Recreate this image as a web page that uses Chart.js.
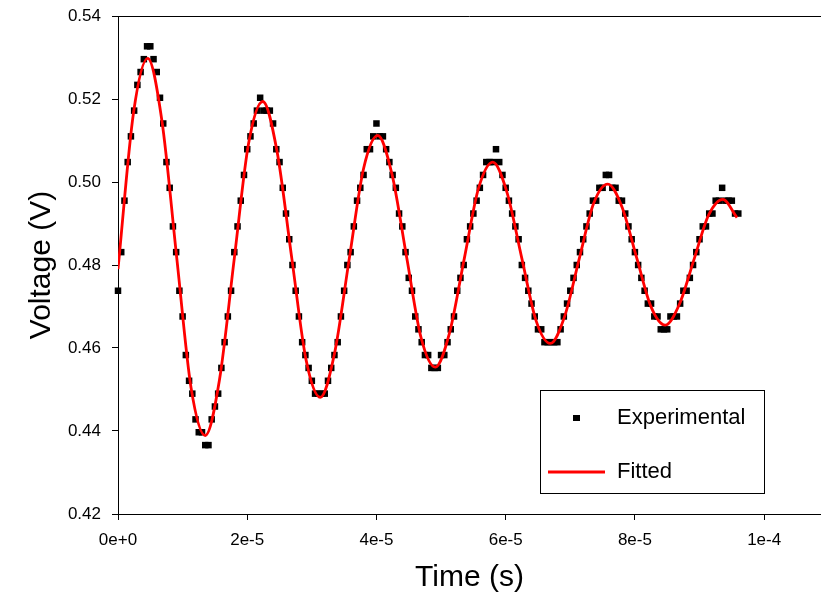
<!DOCTYPE html>
<html>
<head>
<meta charset="utf-8">
<script src="https://cdn.jsdelivr.net/npm/chart.js@4.4.0/dist/chart.umd.min.js"></script>
<style>
  body { margin: 0; background: #fff; }
  #wrap { width: 821px; height: 599px; }
</style>
</head>
<body>
<div id="wrap"><canvas id="mycanvas" width="821" height="599"></canvas></div>
<script>
// scope samples, one every 0.5 us starting at t = 0
var sampleStepUs = 0.5;
var expVoltage = [
  0.4738, 0.4831, 0.4955, 0.5048, 0.5110, 0.5172, 0.5234, 0.5265, 0.5296, 0.5327,
  0.5327, 0.5296, 0.5265, 0.5203, 0.5141, 0.5048, 0.4986, 0.4893, 0.4831, 0.4738,
  0.4676, 0.4583, 0.4521, 0.4490, 0.4428, 0.4397, 0.4397, 0.4366, 0.4366, 0.4428,
  0.4459, 0.4490, 0.4552, 0.4614, 0.4676, 0.4738, 0.4831, 0.4893, 0.4955, 0.5017,
  0.5079, 0.5110, 0.5141, 0.5172, 0.5203, 0.5172, 0.5172, 0.5172, 0.5141, 0.5079,
  0.5048, 0.4986, 0.4924, 0.4862, 0.4800, 0.4738, 0.4676, 0.4614, 0.4583, 0.4552,
  0.4521, 0.4490, 0.4490, 0.4490, 0.4490, 0.4521, 0.4552, 0.4583, 0.4614, 0.4676,
  0.4738, 0.4800, 0.4831, 0.4893, 0.4955, 0.4986, 0.5017, 0.5079, 0.5079, 0.5110,
  0.5141, 0.5110, 0.5110, 0.5079, 0.5048, 0.5017, 0.4986, 0.4924, 0.4893, 0.4831,
  0.4769, 0.4738, 0.4676, 0.4645, 0.4614, 0.4583, 0.4583, 0.4552, 0.4552, 0.4552,
  0.4583, 0.4583, 0.4614, 0.4645, 0.4676, 0.4738, 0.4769, 0.4800, 0.4862, 0.4893,
  0.4924, 0.4955, 0.4986, 0.5017, 0.5048, 0.5048, 0.5048, 0.5079, 0.5048, 0.5017,
  0.4986, 0.4955, 0.4924, 0.4893, 0.4862, 0.4800, 0.4769, 0.4738, 0.4707, 0.4676,
  0.4645, 0.4645, 0.4614, 0.4614, 0.4614, 0.4614, 0.4614, 0.4645, 0.4676, 0.4707,
  0.4738, 0.4769, 0.4800, 0.4831, 0.4862, 0.4893, 0.4924, 0.4955, 0.4955, 0.4986,
  0.4986, 0.5017, 0.5017, 0.4986, 0.4986, 0.4955, 0.4955, 0.4924, 0.4893, 0.4862,
  0.4831, 0.4800, 0.4769, 0.4738, 0.4707, 0.4707, 0.4676, 0.4676, 0.4645, 0.4645,
  0.4645, 0.4676, 0.4676, 0.4676, 0.4707, 0.4738, 0.4738, 0.4769, 0.4800, 0.4831,
  0.4862, 0.4893, 0.4893, 0.4924, 0.4924, 0.4955, 0.4955, 0.4986, 0.4955, 0.4955,
  0.4955, 0.4924, 0.4924
];

// fitted curve (time in us)
var fitTimeUs = [
  0, 2.4, 4.6, 6.8, 9.1, 11.3, 13.5, 15.7, 18.0, 20.2, 22.4, 24.6, 26.9, 29.1, 31.3,
  33.5, 35.8, 38.0, 40.2, 42.4, 44.7, 46.9, 49.1, 51.3, 53.6, 55.8, 58.0, 60.2, 62.5,
  64.7, 66.9, 69.1, 71.4, 73.6, 75.8, 78.0, 80.3, 82.5, 84.7, 86.9, 89.2, 91.4, 93.6, 95.8
];
var fitVoltage = [
  0.4790, 0.5167, 0.5298, 0.5147, 0.4816, 0.4505, 0.4389, 0.4523, 0.4816, 0.5092,
  0.5194, 0.5075, 0.4816, 0.4572, 0.4481, 0.4586, 0.4816, 0.5032, 0.5112, 0.5019,
  0.4816, 0.4625, 0.4554, 0.4636, 0.4816, 0.4985, 0.5048, 0.4975, 0.4816, 0.4666,
  0.4611, 0.4675, 0.4816, 0.4948, 0.4995, 0.4940, 0.4816, 0.4699, 0.4655, 0.4706,
  0.4816, 0.4920, 0.4958, 0.4914
];

var xTicks = [0, 2e-5, 4e-5, 6e-5, 8e-5, 1e-4];
var yTicks = [0.42, 0.44, 0.46, 0.48, 0.50, 0.52, 0.54];
var seriesLabels = ['Experimental', 'Fitted'];
var xTitle = 'Time (s)';
var yTitle = 'Voltage (V)';

var tickFont = { family: "'Liberation Sans', Arial, sans-serif", size: 17 };
var titleFont = { family: "'Liberation Sans', Arial, sans-serif", size: 30 };

var expPoints = [];
for (var i = 0; i < expVoltage.length; i++) {
  expPoints.push({ x: i * sampleStepUs * 1e-6, y: expVoltage[i] });
}
var fitPoints = [];
for (var j = 0; j < fitTimeUs.length; j++) {
  fitPoints.push({ x: fitTimeUs[j] * 1e-6, y: fitVoltage[j] });
}

// top frame line + boxed legend inside the plot
var framePlugin = {
  id: 'frame',
  afterDraw: function(chart) {
    var ctx = chart.ctx;
    var a = chart.chartArea;
    ctx.save();
    ctx.strokeStyle = '#000';
    ctx.lineWidth = 1;
    ctx.beginPath();
    ctx.moveTo(a.left, a.top + 0.5);
    ctx.lineTo(a.right, a.top + 0.5);
    ctx.stroke();

    // legend
    ctx.fillStyle = '#fff';
    ctx.fillRect(541, 391, 224, 103);
    ctx.strokeRect(540.5, 390.5, 224, 103);
    ctx.fillStyle = '#000';
    ctx.fillRect(573, 415, 7, 6);
    ctx.strokeStyle = '#ff0000';
    ctx.lineWidth = 2.8;
    ctx.beginPath();
    ctx.moveTo(548, 472);
    ctx.lineTo(605, 472);
    ctx.stroke();
    ctx.fillStyle = '#000';
    ctx.font = "22px 'Liberation Sans', Arial, sans-serif";
    ctx.textBaseline = 'middle';
    ctx.fillText(chart.data.datasets[1].label, 617, 418);
    ctx.fillText(chart.data.datasets[0].label, 617, 472);
    ctx.restore();
  }
};

var ctx = document.getElementById('mycanvas');

var chart = new Chart(ctx, {
  type: 'scatter',
  data: {
    datasets: [
      {
        label: seriesLabels[1],
        data: fitPoints,
        showLine: true,
        borderColor: '#ff0000',
        borderWidth: 2.8,
        pointRadius: 0,
        fill: false,
        cubicInterpolationMode: 'monotone',
        order: 1
      },
      {
        label: seriesLabels[0],
        data: expPoints,
        showLine: false,
        clip: false,
        pointStyle: 'rect',
        pointRadius: 4.6,
        pointBorderWidth: 0,
        backgroundColor: '#000',
        borderColor: '#000',
        order: 2
      }
    ]
  },
  options: {
    responsive: false,
    animation: false,
    layout: { autoPadding: false, padding: { top: 16, right: 0, left: 0, bottom: 0 } },
    plugins: {
      legend: { display: false },
      tooltip: { enabled: false }
    },
    scales: {
      x: {
        type: 'linear',
        min: 0,
        max: 1.088e-4,
        afterBuildTicks: function(s) { s.ticks = xTicks.map(function(v) { return { value: v }; }); },
        afterFit: function(s) { s.height = 85; s.paddingRight = 0; s.paddingLeft = 0; },
        ticks: {
          autoSkip: false,
          maxRotation: 0,
          color: '#000',
          font: tickFont,
          padding: 10,
          callback: function(v) { return v === 0 ? '0e+0' : Number(v).toExponential(0); }
        },
        grid: { display: true, drawOnChartArea: false, drawTicks: true, tickLength: 6, color: '#000' },
        border: { display: true, color: '#000', width: 1 },
        title: { display: true, text: xTitle, color: '#000', font: titleFont, padding: { top: 0, bottom: 3 } }
      },
      y: {
        min: 0.42,
        max: 0.54,
        afterBuildTicks: function(s) { s.ticks = yTicks.map(function(v) { return { value: v }; }); },
        afterFit: function(s) { s.width = 118; s.paddingTop = 0; s.paddingBottom = 0; },
        ticks: {
          color: '#000',
          font: tickFont,
          padding: 11,
          callback: function(v) { return Number(v).toFixed(2); }
        },
        grid: { display: true, drawOnChartArea: false, drawTicks: true, tickLength: 6, color: '#000' },
        border: { display: true, color: '#000', width: 1 },
        title: { display: true, text: yTitle, color: '#000', font: titleFont, padding: { top: 24, bottom: 0 } }
      }
    }
  },
  plugins: [framePlugin]
});
</script>
</body>
</html>
